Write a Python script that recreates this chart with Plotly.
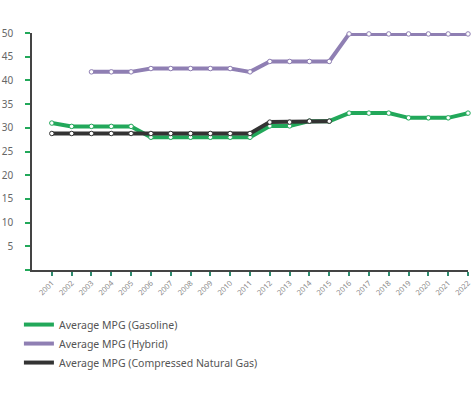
import plotly.graph_objects as go

years = list(range(2001, 2023))
gasoline = [31.0, 30.3, 30.3, 30.3, 30.3, 28.0, 28.0, 28.0, 28.0, 28.0, 28.0,
            30.4, 30.4, 31.4, 31.4, 33.1, 33.1, 33.1, 32.1, 32.1, 32.1, 33.1]
hybrid_years = list(range(2003, 2023))
hybrid = [41.8, 41.8, 41.8, 42.5, 42.5, 42.5, 42.5, 42.5, 41.8,
          44.0, 44.0, 44.0, 44.0, 49.8, 49.8, 49.8, 49.8, 49.8, 49.8, 49.8]
cng_years = list(range(2001, 2016))
cng = [28.8, 28.8, 28.8, 28.8, 28.8, 28.8, 28.8, 28.8, 28.8, 28.8, 28.8,
       31.2, 31.2, 31.4, 31.4]
y_ticks = [0, 5, 10, 15, 20, 25, 30, 35, 40, 45, 50]
y_labels = ["", "5", "10", "15", "20", "25", "30", "35", "40", "45", "50"]

GREEN = "#22a85a"
PURPLE = "#8f7fb3"
BLACK = "#333333"
FONT = "Noto Sans"

fig = go.Figure()

series = [
    ("Average MPG (Gasoline)", years, gasoline, GREEN),
    ("Average MPG (Hybrid)", hybrid_years, hybrid, PURPLE),
    ("Average MPG (Compressed Natural Gas)", cng_years, cng, BLACK),
]

for name, x, y, color in series:
    fig.add_trace(go.Scatter(
        x=x, y=y, name=name, mode="lines+markers", legendgroup=name,
        showlegend=False, cliponaxis=False,
        line=dict(color=color, width=4),
        marker=dict(size=4.5, color="white", line=dict(color=color, width=1)),
    ))

for name, x, y, color in series:
    fig.add_trace(go.Scatter(
        x=[None], y=[None], name=name, mode="lines", legendgroup=name,
        showlegend=True, line=dict(color=color, width=4),
    ))

fig.update_layout(
    width=474, height=397,
    margin=dict(l=32, r=6, t=33, b=127),
    paper_bgcolor="white", plot_bgcolor="white",
    font=dict(family=FONT, color="#666666"),
    showlegend=True,
    legend=dict(
        orientation="v", x=-0.03, y=-0.169, xanchor="left", yanchor="top",
        font=dict(size=10.5, color="#555555", family=FONT),
        itemwidth=30, tracegroupgap=0,
    ),
    xaxis=dict(
        range=[2000, 2022], tickmode="array", tickvals=years,
        ticktext=[str(y) for y in years], tickangle=-45,
        tickfont=dict(size=7.5, color="#888888"), automargin=False,
        showgrid=False, zeroline=False, showline=True, linecolor="#444444",
        linewidth=1.5, ticks="outside", ticklen=4, tickcolor="#2e8b6e",
        tickwidth=1.5,
    ),
    yaxis=dict(
        range=[0, 50], tickmode="array", tickvals=y_ticks, ticktext=y_labels,
        tickfont=dict(size=10, color="#666666"), automargin=False,
        showgrid=False, zeroline=False, showline=True, linecolor="#444444",
        linewidth=1.5, ticks="outside", ticklen=5, tickcolor="#22a85a",
        tickwidth=1.5, ticklabelstandoff=10,
    ),
)

fig.write_html(
    "out.html",
    config={"displayModeBar": False},
    post_script="document.body.style.margin='0';document.body.style.overflow='hidden';",
)
